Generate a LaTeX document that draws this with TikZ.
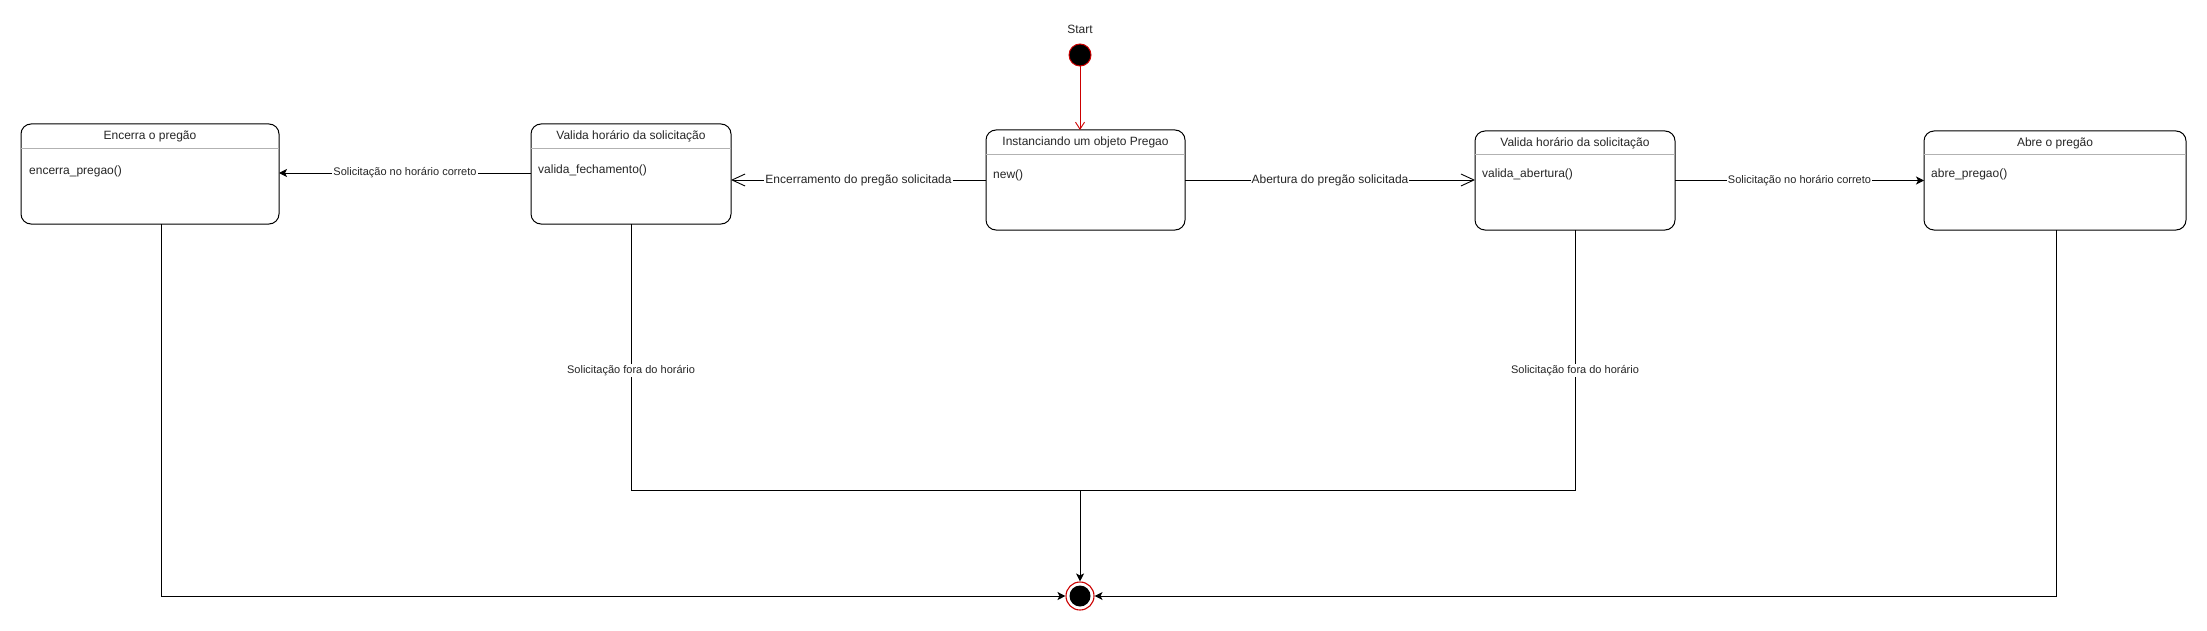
\documentclass[tikz,border=0pt]{standalone}
\usepackage{fontspec}
\setmainfont{Liberation Sans}
\usetikzlibrary{arrows.meta}
\begin{document}
\begin{tikzpicture}[x=1pt,y=-1pt,
  statebox/.style={draw=black, line width=1pt, rounded corners=10pt, fill=white, inner sep=0pt, outer sep=0pt},
  sepline/.style={draw=gray!60, line width=0.9pt},
  titletext/.style={font=\fontsize{12}{14}\selectfont, inner sep=0pt, text=black!85},
  bodytext/.style={font=\fontsize{12}{14}\selectfont, inner sep=0pt, anchor=west, text=black!85},
  conn/.style={draw=black, line width=0.9pt},
  filledarrow/.style={conn, -{Stealth[length=8pt,width=8pt,inset=2pt]}},
  openarrow/.style={conn, -{Straight Barb[length=13pt,width=12pt,line width=0.9pt]}},
  lblbig/.style={font=\fontsize{12}{14}\selectfont, fill=white, inner sep=1pt, text=black!85},
  lblsmall/.style={font=\fontsize{11}{13}\selectfont, fill=white, inner sep=1pt, text=black!85},
  startdot/.style={circle, draw=red!80!black, fill=black, line width=1pt, minimum size=22pt, inner sep=0pt},
  endring/.style={circle, draw=red!80!black, fill=white, line width=1.1pt, minimum size=28pt, inner sep=0pt}
]
\useasboundingbox (0,0) rectangle (2207,631);

% start
\node[startdot] (start) at (1080,55) {};
\node[titletext] (startlbl) at (1080,29) {Start};

% boxes
\node[statebox, minimum width=258pt, minimum height=100pt] (enc) at (150,174) {};
\node[statebox, minimum width=200pt, minimum height=100pt] (fech) at (631,174) {};
\node[statebox, minimum width=199pt, minimum height=100pt] (inst) at (1085.5,180) {};
\node[statebox, minimum width=200pt, minimum height=99pt] (abe) at (1575,180.5) {};
\node[statebox, minimum width=262pt, minimum height=99pt] (abre) at (2055,180.5) {};

% separators
\draw[sepline] ([yshift=-24pt]enc.north west) -- ([yshift=-24pt]enc.north east);
\draw[sepline] ([yshift=-24pt]fech.north west) -- ([yshift=-24pt]fech.north east);
\draw[sepline] ([yshift=-24pt]inst.north west) -- ([yshift=-24pt]inst.north east);
\draw[sepline] ([yshift=-23pt]abe.north west) -- ([yshift=-23pt]abe.north east);
\draw[sepline] ([yshift=-23pt]abre.north west) -- ([yshift=-23pt]abre.north east);

% titles
\node[titletext] (enct) at ([yshift=-12pt]enc.north) {Encerra o pregão};
\node[titletext] (fecht) at ([yshift=-12pt]fech.north) {Valida horário da solicitação};
\node[titletext] (instt) at ([yshift=-12pt]inst.north) {Instanciando um objeto Pregao};
\node[titletext] (abet) at ([yshift=-12pt]abe.north) {Valida horário da solicitação};
\node[titletext] (abret) at ([yshift=-12pt]abre.north) {Abre o pregão};

% bodies
\node[bodytext] (encb) at ([xshift=8pt,yshift=-47pt]enc.north west) {encerra\_pregao()};
\node[bodytext] (fechb) at ([xshift=7pt,yshift=-46pt]fech.north west) {valida\_fechamento()};
\node[bodytext] (instb) at ([xshift=7pt,yshift=-45pt]inst.north west) {new()};
\node[bodytext] (abeb) at ([xshift=7pt,yshift=-43pt]abe.north west) {valida\_abertura()};
\node[bodytext] (abreb) at ([xshift=7pt,yshift=-43pt]abre.north west) {abre\_pregao()};

% end state
\node[endring] (endc) at (1080,596) {};
\fill[black] (endc.center) circle (10.5pt);

% start arrow
\draw[draw=red!80!black, line width=0.9pt, -{Straight Barb[length=7pt,width=9pt,line width=0.9pt]}] (start.south) -- (start.south |- inst.north);

% horizontal transitions
\draw[openarrow] (inst.west) -- node[lblbig] (l1) {Encerramento do pregão solicitada} (inst.west -| fech.east);
\draw[openarrow] (inst.east) -- node[lblbig] (l2) {Abertura do pregão solicitada} (inst.east -| abe.west);
\draw[filledarrow] ([yshift=1pt]fech.west) -- node[lblsmall] (l3) {Solicitação no horário correto} ([yshift=1pt]fech.west -| enc.east);
\draw[filledarrow] (abe.east) -- node[lblsmall] (l4) {Solicitação no horário correto} (abe.east -| abre.west);

% bottom connections
\coordinate (jl) at (fech.south |- 0,490);
\coordinate (jr) at (abe.south |- 0,490);
\coordinate (jm) at (endc.north |- 0,490);
\draw[conn] (fech.south) -- node[lblsmall, pos=0.55] (l5) {Solicitação fora do horário} (jl) -- (jr) -- node[lblsmall, pos=0.46] (l6) {Solicitação fora do horário} (abe.south);
\draw[filledarrow] (jm) -- (endc.north);
\draw[filledarrow] ([xshift=11pt]enc.south) |- (endc.west);
\draw[filledarrow] ([xshift=1pt]abre.south) |- (endc.east);
\end{tikzpicture}
\end{document}
